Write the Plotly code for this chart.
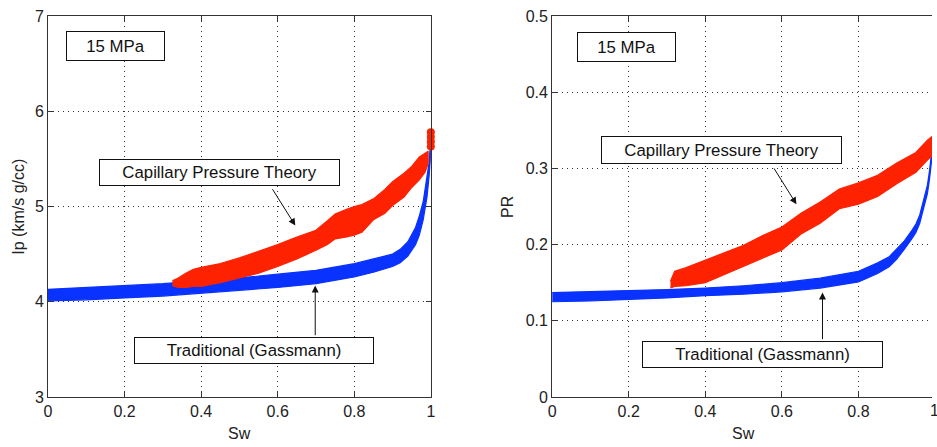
import plotly.graph_objects as go

# ---------------- data ----------------
# Left panel: Ip (km/s g/cc) vs Sw
ip_blue_sw = [0.0, 0.1, 0.2, 0.3, 0.4, 0.5, 0.6, 0.7, 0.8, 0.85, 0.9, 0.92, 0.94, 0.96, 0.97, 0.98, 0.99, 0.995, 1.0]
ip_blue_lo = [4.01, 4.02, 4.04, 4.06, 4.09, 4.12, 4.15, 4.19, 4.26, 4.31, 4.37, 4.41, 4.48, 4.60, 4.70, 4.86, 5.10, 5.30, 5.55]
ip_blue_hi = [4.13, 4.15, 4.17, 4.19, 4.22, 4.25, 4.29, 4.33, 4.40, 4.45, 4.50, 4.55, 4.63, 4.78, 4.90, 5.05, 5.30, 5.45, 5.70]

ip_red_sw = [0.325, 0.34, 0.36, 0.38, 0.40, 0.45, 0.50, 0.55, 0.60, 0.65, 0.70, 0.73, 0.75, 0.78, 0.80, 0.82, 0.85, 0.88, 0.90, 0.93, 0.95, 0.97, 0.985, 0.993]
ip_red_lo = [4.17, 4.15, 4.15, 4.16, 4.16, 4.20, 4.25, 4.30, 4.37, 4.45, 4.54, 4.60, 4.66, 4.68, 4.70, 4.73, 4.86, 4.93, 5.01, 5.10, 5.20, 5.28, 5.36, 5.45]
ip_red_hi = [4.22, 4.25, 4.30, 4.34, 4.36, 4.40, 4.46, 4.53, 4.60, 4.68, 4.75, 4.85, 4.92, 4.97, 5.00, 5.02, 5.08, 5.18, 5.26, 5.35, 5.42, 5.52, 5.56, 5.58]

ip_red_end_sw = [1.0, 1.0, 1.0, 1.0]
ip_red_end = [5.63, 5.68, 5.73, 5.78]

# Right panel: PR vs Sw
pr_blue_sw = [0.0, 0.1, 0.2, 0.3, 0.4, 0.5, 0.6, 0.7, 0.8, 0.85, 0.88, 0.9, 0.92, 0.94, 0.95, 0.96, 0.97, 0.98, 0.985, 0.99, 1.0]
pr_blue_lo = [0.125, 0.126, 0.128, 0.130, 0.133, 0.135, 0.138, 0.143, 0.151, 0.162, 0.171, 0.181, 0.194, 0.208, 0.216, 0.228, 0.246, 0.267, 0.284, 0.304, 0.350]
pr_blue_hi = [0.137, 0.138, 0.139, 0.141, 0.143, 0.146, 0.150, 0.156, 0.165, 0.176, 0.184, 0.194, 0.205, 0.219, 0.227, 0.239, 0.257, 0.278, 0.295, 0.315, 0.360]

pr_red_sw = [0.309, 0.32, 0.35, 0.40, 0.45, 0.50, 0.55, 0.60, 0.65, 0.70, 0.75, 0.80, 0.85, 0.90, 0.95, 0.98, 1.0]
pr_red_lo = [0.143, 0.145, 0.146, 0.150, 0.160, 0.171, 0.182, 0.193, 0.214, 0.228, 0.247, 0.253, 0.263, 0.280, 0.295, 0.311, 0.320]
pr_red_hi = [0.152, 0.165, 0.170, 0.180, 0.189, 0.199, 0.212, 0.223, 0.241, 0.256, 0.273, 0.281, 0.291, 0.307, 0.321, 0.337, 0.345]

x_ticks = [0, 0.2, 0.4, 0.6, 0.8, 1]
ip_ticks = [3, 4, 5, 6, 7]
pr_ticks = [0, 0.1, 0.2, 0.3, 0.4, 0.5]

BLUE = "#0a32ff"
RED = "#ff2200"
FONT = "Liberation Sans, Arial, Helvetica, sans-serif"

fig = go.Figure()


def band(sw, lo, hi, color, xa, ya):
    xs = list(sw) + list(sw)[::-1]
    ys = list(hi) + list(lo)[::-1]
    fig.add_trace(go.Scatter(x=xs, y=ys, fill="toself", fillcolor=color,
                             line=dict(color=color, width=1.2), mode="lines",
                             xaxis=xa, yaxis=ya, hoverinfo="skip", showlegend=False))


band(ip_blue_sw, ip_blue_lo, ip_blue_hi, BLUE, "x", "y")
band(ip_red_sw, ip_red_lo, ip_red_hi, RED, "x", "y")
fig.add_trace(go.Scatter(x=ip_red_end_sw, y=ip_red_end, mode="markers",
                         marker=dict(color=RED, size=8, line=dict(width=0)),
                         cliponaxis=False, xaxis="x", yaxis="y", showlegend=False, hoverinfo="skip"))

band(pr_blue_sw, pr_blue_lo, pr_blue_hi, BLUE, "x2", "y2")
band(pr_red_sw, pr_red_lo, pr_red_hi, RED, "x2", "y2")

axis_common = dict(showgrid=True, gridcolor="#333", griddash="1px,4px", gridwidth=1,
                   showline=True, linecolor="#333", linewidth=1,
                   ticks="inside", ticklen=5, tickcolor="#333",
                   tickfont=dict(family=FONT, size=16, color="#222"),
                   zeroline=False)

fig.update_layout(
    width=937, height=447,
    margin=dict(l=48, r=0, t=16, b=50),
    paper_bgcolor="white", plot_bgcolor="white",
    showlegend=False,
    xaxis=dict(domain=[0, 385 / 889], range=[0, 1], tickvals=x_ticks, mirror="ticks",
               anchor="y", **axis_common),
    yaxis=dict(range=[3, 7], tickvals=ip_ticks, mirror="ticks", anchor="x", **axis_common),
    xaxis2=dict(domain=[507 / 889, 1], range=[0, 0.992], tickvals=x_ticks, mirror="ticks",
                anchor="y2", **axis_common),
    yaxis2=dict(range=[0, 0.5], tickvals=pr_ticks, mirror=False, anchor="x2", **axis_common),
)

box = dict(showarrow=False, bgcolor="white", bordercolor="#111", borderwidth=1,
           borderpad=0, font=dict(family=FONT, size=16.8, color="#111"))

annotations = [
    # left panel boxes
    dict(text="15 MPa", x=0.175, y=6.69, xref="x", yref="y", width=97, height=28, **box),
    dict(text="Capillary Pressure Theory", x=0.447, y=5.357, xref="x", yref="y", width=239, height=25, **box),
    dict(text="Traditional (Gassmann)", x=0.539, y=3.49, xref="x", yref="y", width=238, height=25, **box),
    # right panel boxes
    dict(text="15 MPa", x=0.1935, y=0.459, xref="x2", yref="y2", width=97, height=28, **box),
    dict(text="Capillary Pressure Theory", x=0.443, y=0.324, xref="x2", yref="y2", width=239, height=26, **box),
    dict(text="Traditional (Gassmann)", x=0.549, y=0.056, xref="x2", yref="y2", width=239, height=25, **box),
    # arrows
    dict(text="", x=0.646, y=4.80, ax=0.584, ay=5.197, xref="x", yref="y", axref="x", ayref="y",
         showarrow=True, arrowhead=2, arrowsize=1.4, arrowwidth=1, arrowcolor="#111", standoff=0, startstandoff=0),
    dict(text="", x=0.698, y=4.17, ax=0.698, ay=3.633, xref="x", yref="y", axref="x", ayref="y",
         showarrow=True, arrowhead=2, arrowsize=1.4, arrowwidth=1, arrowcolor="#111", standoff=0, startstandoff=0),
    dict(text="", x=0.638, y=0.253, ax=0.577, ay=0.302, xref="x2", yref="y2", axref="x2", ayref="y2",
         showarrow=True, arrowhead=2, arrowsize=1.4, arrowwidth=1, arrowcolor="#111", standoff=0, startstandoff=0),
    dict(text="", x=0.706, y=0.137, ax=0.706, ay=0.074, xref="x2", yref="y2", axref="x2", ayref="y2",
         showarrow=True, arrowhead=2, arrowsize=1.4, arrowwidth=1, arrowcolor="#111", standoff=0, startstandoff=0),
    # axis titles
    dict(text="Sw", x=(240.5 - 48) / 889, y=-36 / 381, xref="paper", yref="paper", showarrow=False,
         xanchor="center", yanchor="middle", font=dict(family=FONT, size=16, color="#222")),
    dict(text="Sw", x=(747.5 - 48) / 889, y=-36 / 381, xref="paper", yref="paper", showarrow=False,
         xanchor="center", yanchor="middle", font=dict(family=FONT, size=16, color="#222")),
    dict(text="Ip (km/s g/cc)", x=(18 - 48) / 889, y=0.5, xref="paper", yref="paper", showarrow=False,
         textangle=-90, xanchor="center", yanchor="middle", font=dict(family=FONT, size=16, color="#222")),
    dict(text="PR", x=(510 - 48) / 889, y=0.5, xref="paper", yref="paper", showarrow=False,
         textangle=-90, xanchor="center", yanchor="middle", font=dict(family=FONT, size=16, color="#222")),
    # partially visible last tick label of the right panel
    dict(text="1", x=(940 - 48) / 889, y=-13 / 381, xref="paper", yref="paper", showarrow=False,
         xanchor="center", yanchor="middle", font=dict(family=FONT, size=16, color="#222")),
]
fig.update_layout(annotations=annotations)

fig.write_html("out.html", config={"displayModeBar": False},
               post_script="document.body.style.margin='0';document.body.style.overflow='hidden';")
